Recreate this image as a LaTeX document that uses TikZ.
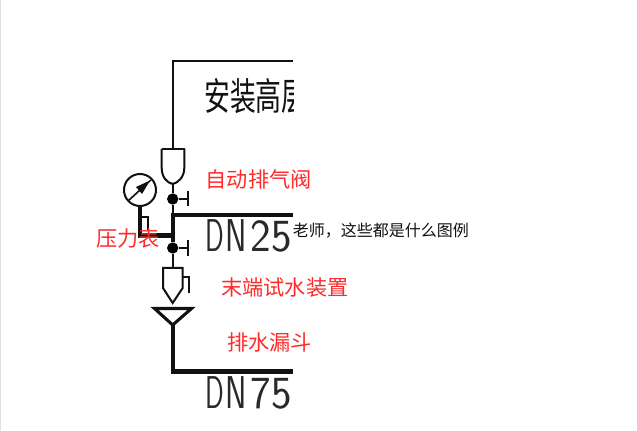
\documentclass[tikz,border=0pt]{standalone}
\usepackage{fontspec}
\setmainfont{Liberation Sans}
\newfontfamily\cjk{Noto Sans CJK SC}
\usetikzlibrary{calc}
\definecolor{redtxt}{HTML}{FF2A2A}
\definecolor{ink}{HTML}{111111}
\newcommand{\cadletters}[4]{\scalebox{.6}[1]{#1}\hspace{.8pt}\scalebox{.7}[1]{#2}\hspace{3pt}\scalebox{.95}[1]{#3}\hspace{.8pt}\scalebox{.95}[1]{#4}}
\tikzset{
 thin line/.style={draw=ink,line width=1.5pt,line join=miter},
 thick line/.style={draw=ink,line width=3.3pt},
 redlabel/.style={text=redtxt,anchor=west,inner sep=0pt,font=\cjk\fontsize{15.9}{16}\selectfont},
 cadtext/.style={text=ink!90,anchor=west,inner sep=0pt,font=\sffamily\fontsize{34.5}{35}\selectfont},
 joint/.style={circle,fill=black,inner sep=0pt,minimum size=8.5pt},
}
\begin{document}
\begin{tikzpicture}[x=0.75pt,y=-0.75pt]
\useasboundingbox (0,0) rectangle (637,431);
\fill[white] (0,0) rectangle (637,431);
\draw[black!12,line width=1pt] (0.5,0) -- (0.5,431);
% named points
\coordinate (top) at (172.7,61);
\coordinate (topr) at (293,61);
\coordinate (v1t) at (172.7,149);
\coordinate (v1b) at (172.7,184);
\node[joint] (d1) at (172.7,199) {};
\node[joint] (d2) at (172.7,248) {};
\coordinate (tee) at (172.7,215);
\coordinate (teer) at (293,215);
\coordinate (br) at (172.7,235.7);
\coordinate (brl) at (140,235.7);
\node[circle,draw=ink,line width=1.5pt,minimum size=24pt,inner sep=0pt] (gauge) at (140,190) {};
\coordinate (v2t) at (172.7,268);
\coordinate (fa) at (172.7,325);
\coordinate (fb) at (172.7,371.7);
\coordinate (fbr) at (293,371.7);
% clipped CAD texts
\begin{scope}
\clip (0,0) rectangle (293,431);
\node[anchor=west,inner sep=0pt,text=ink,font=\cjk\fontsize{28.5}{29}\selectfont,xscale=0.68] (title) at (204,96) {安装高层};
\node[cadtext] (dn25) at (205,236) {\cadletters{D}{N}{2}{5}};
\node[cadtext] (dn75) at (205,392.5) {\cadletters{D}{N}{7}{5}};
\end{scope}
% pipes
\draw[thin line] (topr) -- (top) -- (v1t);
\draw[thin line] (161.5,149) -- (184.5,149);
\draw[thin line] (161.7,149) -- (161.7,168) .. controls (161.7,177) and (167,183) .. (v1b) .. controls (178,183) and (184.3,177) .. (184.3,168) -- (184.3,149);
\draw[thin line] (v1b) -- (d1);
\draw[thin line] (d1) -- (187.7,199);
\draw[thin line] (187.7,191) -- (187.7,206);
\draw[thin line] (d1) -- (tee);
\draw[thick line] (teer) -- (tee) -- (d2);
\draw[thick line] (br) -- (brl) -- (gauge.south);
\draw[thin line] (140,217) -- (148,217) -- (148,230);
% gauge needle
\draw[ink,line width=1.2pt] (128,201) -- (gauge.center);
\draw[ink,line width=1pt] (gauge.center) -- (151,180);
\fill[ink] (136,187) -- (150,180.5) -- (142,194) -- cycle;
\draw[thin line] (d2) -- (187.7,248);
\draw[thin line] (187.7,240) -- (187.7,256);
\draw[thin line] (d2) -- (v2t);
% lower device
\draw[thin line] (163,288) -- (163,268) -- (182.7,268) -- (182.7,288) -- (172.7,303) -- cycle;
\draw[thin line] (182.7,276.7) -- (189,276.7) -- (189,293);
% funnel
\draw[draw=ink,line width=2.3pt,miter limit=10] (154.5,308.5) -- (191.5,308.5) -- (fa) -- cycle;
\draw[thick line] (fa) -- (fb);
\draw[thick line] (170.7,371.7) -- (fbr);
% overlay labels
\node[redlabel] (l1) at (205.5,179.5) {自动排气阀};
\node[redlabel] (l2) at (96,238) {压力表};
\node[redlabel] (l3) at (221,287.5) {末端试水装置};
\node[redlabel] (l4) at (227,342.5) {排水漏斗};
\node[anchor=west,inner sep=0pt,text=ink,font=\cjk\fontsize{12}{12}\selectfont] (q) at (292.5,231) {老师，这些都是什么图例};
\end{tikzpicture}
\end{document}
